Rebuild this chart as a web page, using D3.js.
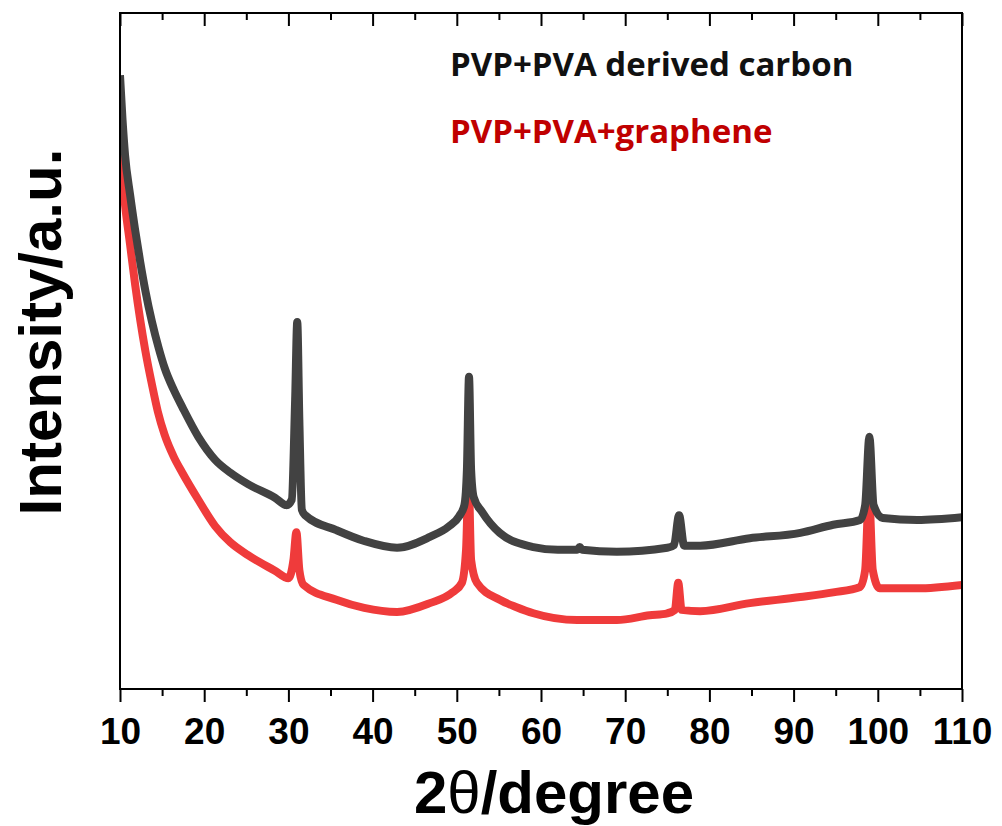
<!DOCTYPE html>
<html>
<head>
<meta charset="utf-8">
<script src="https://cdn.jsdelivr.net/npm/d3@7"></script>
<style>
  body { margin: 0; background: #fff; }
  svg { display: block; }
</style>
</head>
<body>
<svg width="1002" height="826"></svg>
<script>
// DATI (2theta in gradi, intensita' in u.a.)
var theta_carbon = [10.0, 10.3, 10.6, 11.2, 11.8, 12.4, 13.0, 13.8, 14.6, 15.3, 16.4, 17.4, 19.3, 21.3, 23.1, 25.2, 28.4, 29.8, 30.4, 30.8, 31.05, 31.3, 31.6, 32.0, 35.7, 39.0, 42.9, 46.8, 49.0, 50.3, 50.9, 51.2, 51.45, 51.7, 52.0, 53.0, 55.1, 59.1, 62.0, 64.3, 64.6, 64.9, 69.0, 75.0, 75.8, 76.4, 77.0, 78.9, 84.8, 90.8, 94.7, 97.9, 98.5, 99.0, 99.5, 100.6, 104.7, 110.0];
var int_carbon = [90.8, 84.2, 79.0, 73.1, 67.9, 63.2, 59.0, 54.3, 50.4, 47.5, 44.2, 41.7, 37.3, 33.9, 32.0, 30.3, 28.3, 27.2, 28.0, 42.8, 54.3, 39.8, 26.5, 25.7, 23.5, 21.9, 20.9, 22.5, 24.0, 25.6, 27.2, 32.4, 46.2, 32.4, 28.4, 26.2, 23.1, 21.0, 20.6, 20.6, 21.0, 20.6, 20.3, 20.9, 21.3, 25.7, 21.2, 21.2, 22.3, 23.1, 24.3, 25.0, 27.2, 37.3, 27.2, 25.3, 25.0, 25.4];

var theta_graphene = [10.0, 10.3, 10.6, 11.2, 11.8, 12.4, 13.0, 13.8, 14.5, 15.3, 16.4, 17.4, 19.3, 21.3, 23.1, 25.2, 28.4, 30.0, 30.6, 30.95, 31.3, 31.8, 35.7, 39.0, 42.9, 46.8, 49.5, 50.6, 51.1, 51.4, 51.7, 52.4, 55.1, 57.1, 59.1, 64.3, 69.0, 72.9, 75.0, 75.9, 76.3, 76.7, 78.9, 84.8, 90.8, 94.7, 97.9, 98.5, 98.95, 99.4, 100.2, 104.7, 110.0];
var int_graphene = [79.7, 75.3, 71.6, 65.7, 59.8, 54.6, 50.1, 45.0, 41.0, 37.6, 34.3, 32.0, 28.0, 24.1, 21.7, 19.8, 17.5, 16.4, 19.1, 23.2, 17.6, 15.4, 13.2, 12.0, 11.4, 12.7, 14.3, 15.7, 20.6, 31.4, 19.1, 15.7, 13.2, 12.1, 11.2, 10.2, 10.2, 10.9, 11.2, 11.7, 15.7, 11.7, 11.5, 12.7, 13.6, 14.3, 15.1, 17.6, 29.0, 17.6, 14.9, 14.9, 15.4];

var series_names = ["PVP+PVA derived carbon", "PVP+PVA+graphene"];
var series_colors = ["#424242", "#ef3b3b"];
var label_colors = ["#111111", "#c00000"];

var x_ticks = [10, 20, 30, 40, 50, 60, 70, 80, 90, 100, 110];
var x_minor = [15, 25, 35, 45, 55, 65, 75, 85, 95, 105];

// AREA DEL GRAFICO
var svg = d3.select("svg"),
    m_left = 120, m_right = 962, m_top = 13, m_bottom = 689;

var x = d3.scaleLinear().domain([10, 110]).range([m_left, m_right]);
var y = d3.scaleLinear().domain([0, 100]).range([m_bottom, m_top]);

function unisci(tx, iy) {
  return tx.map(function(d, i) { return [d, iy[i]]; });
}

var dati = [unisci(theta_carbon, int_carbon), unisci(theta_graphene, int_graphene)];

var linea = d3.line()
  .curve(d3.curveMonotoneX)
  .x(function(d) { return x(d[0]); })
  .y(function(d) { return y(d[1]); });

svg.append("clipPath").attr("id", "clip")
  .append("rect")
  .attr("x", m_left).attr("y", m_top)
  .attr("width", m_right - m_left).attr("height", m_bottom - m_top);

// curve: la nera sopra la rossa come nell'originale
var curve = svg.append("g").attr("clip-path", "url(#clip)");
[1, 0].forEach(function(k) {
  curve.append("path")
    .datum(dati[k])
    .attr("d", linea)
    .attr("fill", "none")
    .attr("stroke", series_colors[k])
    .attr("stroke-width", 8)
    .attr("stroke-linejoin", "round");
});

// ASSI
var asse_x = svg.append("g").attr("transform", "translate(0," + m_bottom + ")");
asse_x.call(d3.axisBottom(x).tickValues(x_ticks).tickSize(13).tickPadding(16).tickFormat(d3.format("d")));
asse_x.append("g").call(d3.axisBottom(x).tickValues(x_minor).tickSize(7).tickFormat(""));

var asse_top = svg.append("g").attr("transform", "translate(0," + m_top + ")");
asse_top.call(d3.axisBottom(x).tickValues(x_ticks).tickSize(13).tickFormat(""));
asse_top.append("g").call(d3.axisBottom(x).tickValues(x_minor).tickSize(7).tickFormat(""));

svg.selectAll(".domain").remove();
svg.selectAll(".tick line").attr("stroke", "#000").attr("stroke-width", 2);
asse_x.selectAll(".tick text")
  .attr("fill", "#000")
  .style("font-family", "'Liberation Sans', Arial, sans-serif")
  .style("font-weight", "bold")
  .style("font-size", "37px");

svg.append("rect")
  .attr("x", m_left).attr("y", m_top)
  .attr("width", m_right - m_left).attr("height", m_bottom - m_top)
  .attr("fill", "none")
  .attr("stroke", "#000")
  .attr("stroke-width", 2);

// TITOLI ASSI
var titolo_x = svg.append("text")
  .attr("x", 554).attr("y", 813)
  .attr("text-anchor", "middle")
  .style("font-family", "'Liberation Sans', Arial, sans-serif")
  .style("font-weight", "bold")
  .style("font-size", "60px");
titolo_x.append("tspan").text("2");
titolo_x.append("tspan").style("font-weight", "normal").text("\u03B8");
titolo_x.append("tspan").text("/degree");

svg.append("text")
  .attr("transform", "translate(61,332) rotate(-90)")
  .attr("text-anchor", "middle")
  .style("font-family", "'Liberation Sans', Arial, sans-serif")
  .style("font-weight", "bold")
  .style("font-size", "60px")
  .text("Intensity/a.u.");

// LEGENDA (solo testo colorato)
var leg_y = [76, 143];
series_names.forEach(function(s, i) {
  svg.append("text")
    .attr("x", 450).attr("y", leg_y[i])
    .attr("fill", label_colors[i])
    .style("font-family", "'Open Sans', sans-serif")
    .style("font-weight", "bold")
    .style("font-size", "33px")
    .text(s);
});
</script>
</body>
</html>
